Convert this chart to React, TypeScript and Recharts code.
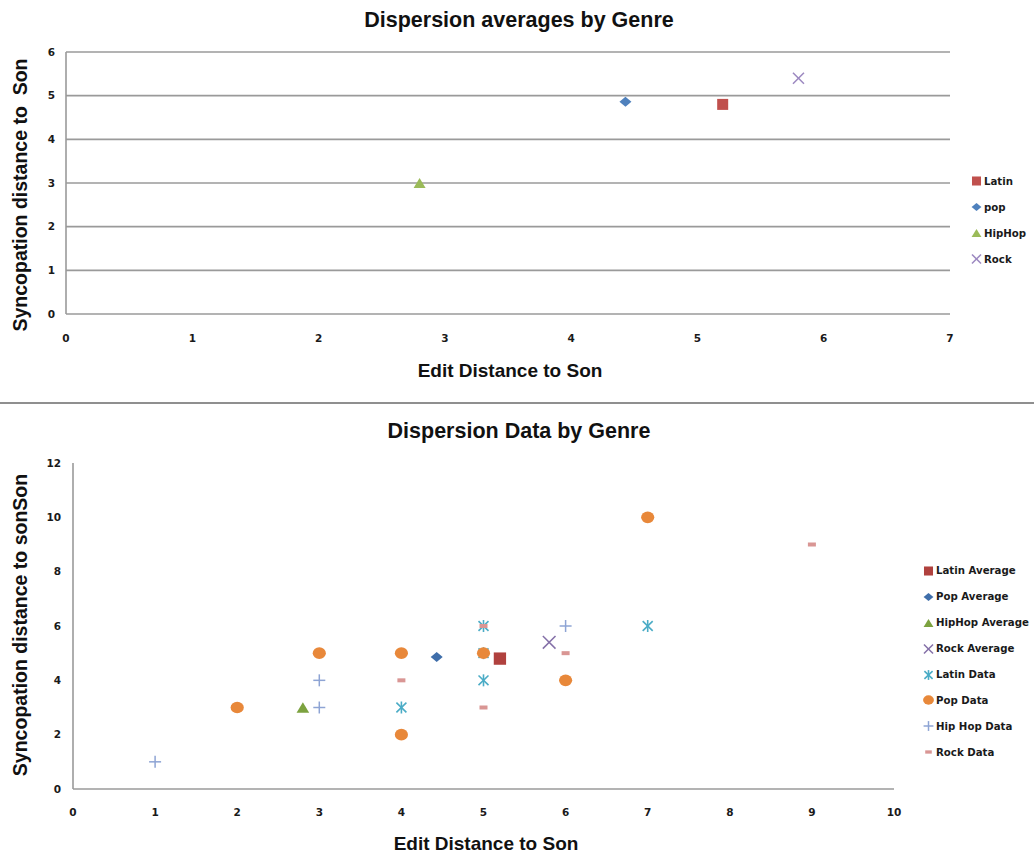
import React from "react";
import {
  ScatterChart,
  Scatter,
  XAxis,
  YAxis,
  CartesianGrid,
  Legend,
} from "recharts";

type Pt = { x: number; y: number };

// Genre averages (edit distance, syncopation distance)
const latinAverage: Pt[] = [{ x: 5.2, y: 4.8 }];
const popAverage: Pt[] = [{ x: 4.43, y: 4.86 }];
const hipHopAverage: Pt[] = [{ x: 2.8, y: 3.0 }];
const rockAverage: Pt[] = [{ x: 5.8, y: 5.4 }];

// Individual songs per genre
const latinData: Pt[] = [
  { x: 4, y: 3 },
  { x: 5, y: 6 },
  { x: 5, y: 5 },
  { x: 5, y: 4 },
  { x: 7, y: 6 },
];
const popData: Pt[] = [
  { x: 2, y: 3 },
  { x: 3, y: 5 },
  { x: 4, y: 5 },
  { x: 4, y: 2 },
  { x: 5, y: 5 },
  { x: 6, y: 4 },
  { x: 7, y: 10 },
];
const hipHopData: Pt[] = [
  { x: 1, y: 1 },
  { x: 3, y: 4 },
  { x: 3, y: 3 },
  { x: 6, y: 6 },
];
const rockData: Pt[] = [
  { x: 4, y: 4 },
  { x: 5, y: 3 },
  { x: 5, y: 6 },
  { x: 6, y: 5 },
  { x: 9, y: 9 },
];

// Axis ticks
const topXTicks = [0, 1, 2, 3, 4, 5, 6, 7];
const topYTicks = [0, 1, 2, 3, 4, 5, 6];
const bottomXTicks = [0, 1, 2, 3, 4, 5, 6, 7, 8, 9, 10];
const bottomYTicks = [0, 2, 4, 6, 8, 10, 12];

// Labels
const topTitle = "Dispersion averages by Genre";
const bottomTitle = "Dispersion Data by Genre";
const xTitle = "Edit Distance to Son";
const topYTitle = "Syncopation distance to  Son";
const bottomYTitle = "Syncopation distance to sonSon";

const topLegendNames = ["Latin", "pop", "HipHop", "Rock"];
const bottomLegendNames = [
  "Latin Average",
  "Pop Average",
  "HipHop Average",
  "Rock Average",
  "Latin Data",
  "Pop Data",
  "Hip Hop Data",
  "Rock Data",
];

const C = {
  latin: "#C0504D",
  latinDark: "#B0413E",
  pop: "#4F81BD",
  popDark: "#3F6EAA",
  hiphop: "#9BBB59",
  hiphopDark: "#7CA23F",
  rock: "#9C88C0",
  rockDark: "#8470A8",
  latinData: "#4BACC6",
  popData: "#E8883A",
  hipHopData: "#8EA4D4",
  rockData: "#D99694",
  grid: "#9a9a9a",
};

const TITLE_FONT = "'Liberation Sans', Arial, sans-serif";
const SMALL_FONT = "'DejaVu Sans', sans-serif";

type Kind =
  | "square"
  | "diamond"
  | "triangle"
  | "x"
  | "asterisk"
  | "circle"
  | "plus"
  | "dash";

function Mark({
  kind,
  cx,
  cy,
  color,
  s = 1,
}: {
  kind: Kind;
  cx: number;
  cy: number;
  color: string;
  s?: number;
}) {
  switch (kind) {
    case "square": {
      const w = 11 * s;
      const h = 11 * s;
      return <rect x={cx - w / 2} y={cy - h / 2} width={w} height={h} fill={color} />;
    }
    case "diamond": {
      const w = 6 * s;
      const h = 5 * s;
      return (
        <polygon
          points={`${cx - w},${cy} ${cx},${cy - h} ${cx + w},${cy} ${cx},${cy + h}`}
          fill={color}
        />
      );
    }
    case "triangle": {
      const w = 6 * s;
      const h = 5 * s;
      return (
        <polygon
          points={`${cx - w},${cy + h} ${cx},${cy - h} ${cx + w},${cy + h}`}
          fill={color}
        />
      );
    }
    case "x": {
      const d = 5.5 * s;
      return (
        <g stroke={color} strokeWidth={1.5}>
          <line x1={cx - d} y1={cy - d} x2={cx + d} y2={cy + d} />
          <line x1={cx - d} y1={cy + d} x2={cx + d} y2={cy - d} />
        </g>
      );
    }
    case "asterisk": {
      const w = 5 * s;
      const h = 6 * s;
      return (
        <g stroke={color} strokeWidth={1.6}>
          <line x1={cx} y1={cy - h} x2={cx} y2={cy + h} />
          <line x1={cx - w} y1={cy - h * 0.8} x2={cx + w} y2={cy + h * 0.8} />
          <line x1={cx - w} y1={cy + h * 0.8} x2={cx + w} y2={cy - h * 0.8} />
        </g>
      );
    }
    case "circle":
      return <ellipse cx={cx} cy={cy} rx={6.6 * s} ry={5.8 * s} fill={color} />;
    case "plus": {
      const d = 6 * s;
      return (
        <g stroke={color} strokeWidth={1.5}>
          <line x1={cx - d} y1={cy} x2={cx + d} y2={cy} />
          <line x1={cx} y1={cy - d} x2={cx} y2={cy + d} />
        </g>
      );
    }
    case "dash":
      return (
        <rect x={cx - 4 * s} y={cy - 2 * s} width={8 * s} height={4 * s} fill={color} />
      );
  }
  return null;
}

const shapeOf = (kind: Kind, color: string, s = 1) => (props: any) =>
  <Mark kind={kind} cx={props.cx} cy={props.cy} color={color} s={s} />;

function LegendBox({
  names,
  kinds,
  colors,
  rowH,
}: {
  names: string[];
  kinds: Kind[];
  colors: string[];
  rowH: number;
}) {
  return (
    <div style={{ fontFamily: SMALL_FONT, fontSize: 10.2, fontWeight: "bold", color: "#1a1a1a" }}>
      {names.map((n, i) => (
        <div
          key={n}
          style={{ height: rowH, display: "flex", alignItems: "center", whiteSpace: "nowrap" }}
        >
          <svg width={13} height={14} style={{ flex: "none" }}>
            <Mark kind={kinds[i]} cx={6.5} cy={7} color={colors[i]} s={0.82} />
          </svg>
          <span style={{ marginLeft: 1 }}>{n}</span>
        </div>
      ))}
    </div>
  );
}

const tickStyle = {
  fontFamily: SMALL_FONT,
  fontSize: 10.5,
  fontWeight: "bold" as const,
  fill: "#1a1a1a",
};

function AbsText({
  text,
  left,
  top,
  size,
  rotate = false,
}: {
  text: string;
  left: number;
  top: number;
  size: number;
  rotate?: boolean;
}) {
  return (
    <div
      style={{
        position: "absolute",
        left,
        top,
        transform: `translate(-50%, -50%)${rotate ? " rotate(-90deg)" : ""}`,
        fontFamily: TITLE_FONT,
        fontWeight: "bold",
        fontSize: size,
        color: "#111",
        whiteSpace: "pre",
        lineHeight: 1,
      }}
    >
      {text}
    </div>
  );
}

export default function App() {
  return (
    <div
      style={{
        position: "absolute",
        left: 0,
        top: 0,
        width: 1034,
        height: 853,
        background: "#fff",
        overflow: "hidden",
      }}
    >
      {/* Averages chart */}
      <div style={{ position: "absolute", left: 0, top: 0 }}>
        <ScatterChart
          width={1034}
          height={400}
          margin={{ top: 52, right: 84, bottom: 56, left: 30 }}
        >
          <CartesianGrid vertical={false} stroke={C.grid} strokeWidth={1.6} />
          <XAxis
            type="number"
            dataKey="x"
            domain={[0, 7]}
            ticks={topXTicks}
            axisLine={false}
            tickLine={false}
            tickMargin={15}
            height={30}
            tick={tickStyle}
          />
          <YAxis
            type="number"
            dataKey="y"
            domain={[0, 6]}
            ticks={topYTicks}
            axisLine={{ stroke: C.grid, strokeWidth: 1.6 }}
            tickLine={false}
            tickMargin={5}
            width={36}
            tick={tickStyle}
          />
          <Scatter name="Latin" data={latinAverage} fill={C.latin} shape={shapeOf("square", C.latin)} isAnimationActive={false} />
          <Scatter name="pop" data={popAverage} fill={C.pop} shape={shapeOf("diamond", C.pop)} isAnimationActive={false} />
          <Scatter name="HipHop" data={hipHopAverage} fill={C.hiphop} shape={shapeOf("triangle", C.hiphop)} isAnimationActive={false} />
          <Scatter name="Rock" data={rockAverage} fill={C.rock} shape={shapeOf("x", C.rock)} isAnimationActive={false} />
          <Legend
            layout="vertical"
            align="center"
            verticalAlign="middle"
            wrapperStyle={{ left: 970, top: 168, width: 64 }}
            content={() => (
              <LegendBox
                names={topLegendNames}
                kinds={["square", "diamond", "triangle", "x"]}
                colors={[C.latin, C.pop, C.hiphop, C.rock]}
                rowH={26}
              />
            )}
          />
        </ScatterChart>
      </div>

      <AbsText text={topTitle} left={519} top={21} size={21.5} />
      <AbsText text={xTitle} left={510} top={370} size={19} />
      <AbsText text={topYTitle} left={21} top={195} size={19.5} rotate />

      {/* divider between the two charts */}
      <div
        style={{
          position: "absolute",
          left: 0,
          top: 402,
          width: 1034,
          height: 2,
          background: "#8f8f8f",
        }}
      />

      {/* Per-song data chart */}
      <div style={{ position: "absolute", left: 0, top: 403 }}>
        <ScatterChart
          width={1034}
          height={450}
          margin={{ top: 60, right: 140, bottom: 34, left: 33 }}
        >
          <XAxis
            type="number"
            dataKey="x"
            domain={[0, 10]}
            ticks={bottomXTicks}
            axisLine={{ stroke: C.grid, strokeWidth: 1.6 }}
            tickLine={false}
            tickMargin={14}
            height={30}
            tick={tickStyle}
          />
          <YAxis
            type="number"
            dataKey="y"
            domain={[0, 12]}
            ticks={bottomYTicks}
            axisLine={{ stroke: C.grid, strokeWidth: 1.6 }}
            tickLine={false}
            tickMargin={6}
            width={40}
            tick={tickStyle}
          />
          <Scatter name="Latin Average" data={latinAverage} fill={C.latinDark} shape={shapeOf("square", C.latinDark, 1.12)} isAnimationActive={false} />
          <Scatter name="Pop Average" data={popAverage} fill={C.popDark} shape={shapeOf("diamond", C.popDark)} isAnimationActive={false} />
          <Scatter name="HipHop Average" data={hipHopAverage} fill={C.hiphopDark} shape={shapeOf("triangle", C.hiphopDark, 1.05)} isAnimationActive={false} />
          <Scatter name="Rock Average" data={rockAverage} fill={C.rockDark} shape={shapeOf("x", C.rockDark, 1.15)} isAnimationActive={false} />
          <Scatter name="Latin Data" data={latinData} fill={C.latinData} shape={shapeOf("asterisk", C.latinData)} isAnimationActive={false} />
          <Scatter name="Pop Data" data={popData} fill={C.popData} shape={shapeOf("circle", C.popData)} isAnimationActive={false} />
          <Scatter name="Hip Hop Data" data={hipHopData} fill={C.hipHopData} shape={shapeOf("plus", C.hipHopData)} isAnimationActive={false} />
          <Scatter name="Rock Data" data={rockData} fill={C.rockData} shape={shapeOf("dash", C.rockData)} isAnimationActive={false} />
          <Legend
            layout="vertical"
            align="center"
            verticalAlign="middle"
            wrapperStyle={{ left: 922, top: 155, width: 112 }}
            content={() => (
              <LegendBox
                names={bottomLegendNames}
                kinds={["square", "diamond", "triangle", "x", "asterisk", "circle", "plus", "dash"]}
                colors={[
                  C.latinDark,
                  C.popDark,
                  C.hiphopDark,
                  C.rockDark,
                  C.latinData,
                  C.popData,
                  C.hipHopData,
                  C.rockData,
                ]}
                rowH={25.9}
              />
            )}
          />
        </ScatterChart>
      </div>

      <AbsText text={bottomTitle} left={519} top={432} size={21.5} />
      <AbsText text={xTitle} left={486} top={843} size={19} />
      <AbsText text={bottomYTitle} left={21} top={625} size={19.5} rotate />
    </div>
  );
}
